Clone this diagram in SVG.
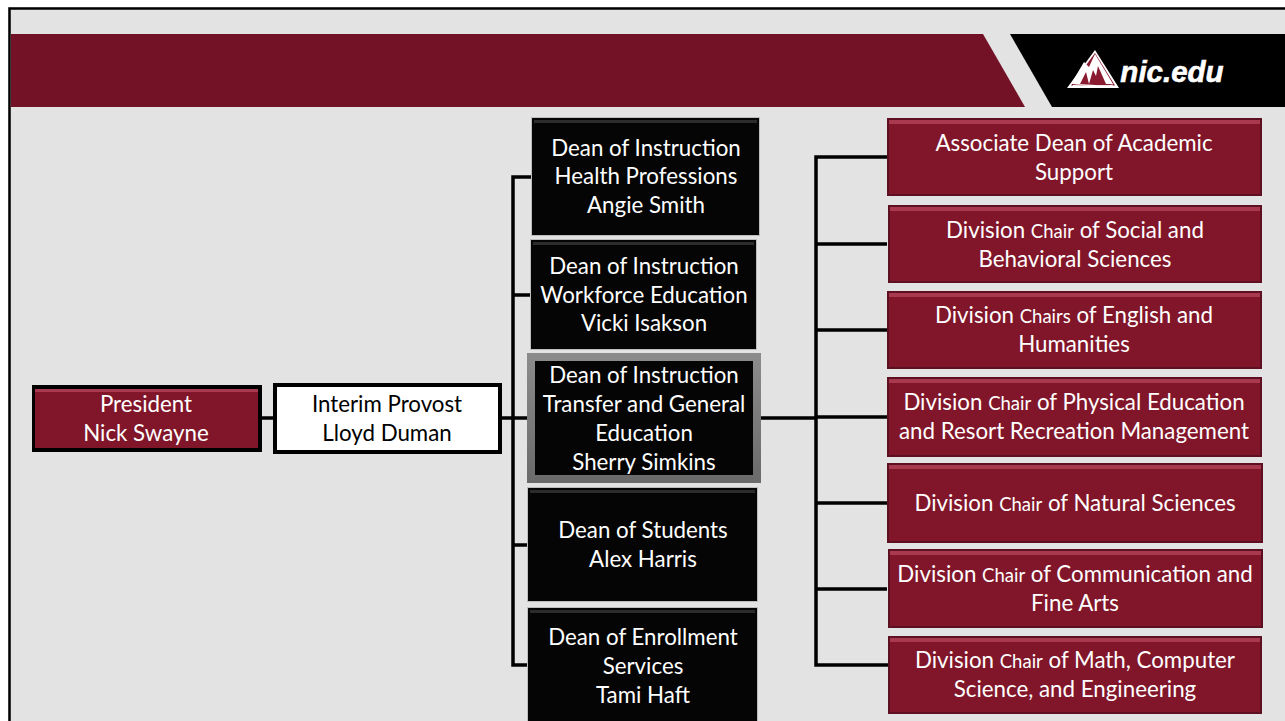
<svg xmlns="http://www.w3.org/2000/svg" width="1285" height="721" viewBox="0 0 1285 721">
<style>
text{font-family:"Lato","Liberation Sans",sans-serif;font-size:22.300px;text-anchor:middle;fill:#fff}
.s{font-size:18.500px}
.k{fill:#000}
.edge{fill:#bdbdbd}
.red{fill:#81162a}
.redtop{fill:#a8394f}
.redlo{fill:#5d1022}
.blk{fill:#050505}
.blktop{fill:#2c2c2c}
.c{fill:none;stroke:#000;stroke-width:3.500}
</style>
<defs>
<linearGradient id="g" x1="0" y1="0" x2="0" y2="1"><stop offset="0" stop-color="#8c8c8c"/><stop offset="1" stop-color="#6a6a6a"/></linearGradient>
</defs>
<rect width="1285" height="721" fill="#fff"/>
<rect x="8" y="7" width="1277" height="714" fill="#e3e3e3"/>
<path d="M9.500 721V8.500H1285" fill="none" stroke="#000" stroke-width="2.500"/>
<g id="header">
<polygon points="11,34 983,34 1025,107 11,107" fill="#731226"/>
<polygon points="1010,34 1285,34 1285,107 1052,107" fill="#000"/>
<polygon points="1067,88 1095,50 1119,88" fill="#fff"/>
<polygon points="1071,85.500 1095,53 1115,85.500" fill="#8a1a30"/>
<polygon points="1071,84 1084,62 1089,67 1095,54 1113,84 1106,84 1098,66 1096,76 1093,70 1089,84 1086,72 1080,84" fill="#fff"/>
<path d="M1073,85.500C1085,83 1100,88 1113,85" fill="none" stroke="#fff" stroke-width="1.200"/>
<text x="1172" y="82" style="font-family:'Liberation Sans',sans-serif;font-weight:bold;font-style:italic;font-size:29.500px;stroke:#fff;stroke-width:.6">nic.edu</text>
</g>
<g id="connectors">
<path class="c" d="M261,418H273M501,418H527M532,177H513V665H527M513,295H530M513,545H527"/>
<path class="c" d="M761,418H816M887,157H816V665H888M816,244H887M816,330H887M816,417H887M816,503H887M816,589H887"/>
</g>
<g id="president">
<rect x="32" y="385" width="230" height="67" class="k"/>
<rect x="35" y="389" width="223" height="59" class="red"/>
<rect x="35" y="389" width="223" height="3" class="redtop"/>
<text x="146" y="412">President</text><text x="146" y="441">Nick Swayne</text>
</g>
<g id="provost">
<rect x="273" y="383" width="229" height="71" class="k"/>
<rect x="277" y="387" width="221" height="63" fill="#fff"/>
<text x="387" y="412" class="k">Interim Provost</text><text x="387" y="441" class="k">Lloyd Duman</text>
</g>
<g id="dean1">
<rect x="531" y="117" width="229" height="119" class="edge"/>
<rect x="532" y="118" width="227" height="117" class="blk"/>
<rect x="534" y="120" width="223" height="3" class="blktop"/>
<text x="646" y="156">Dean of Instruction</text><text x="646" y="184">Health Professions</text><text x="646" y="213">Angie Smith</text>
</g>
<g id="dean2">
<rect x="530" y="239" width="227" height="111" class="edge"/>
<rect x="531" y="240" width="225" height="109" class="blk"/>
<rect x="533" y="242" width="221" height="3" class="blktop"/>
<text x="644" y="274">Dean of Instruction</text><text x="644" y="303">Workforce Education</text><text x="644" y="331">Vicki Isakson</text>
</g>
<g id="dean3">
<rect x="527" y="353" width="234" height="130" fill="url(#g)"/>
<rect x="535" y="361" width="218" height="114" class="blk"/>
<text x="644" y="383">Dean of Instruction</text><text x="644" y="412">Transfer and General</text><text x="644" y="441">Education</text><text x="644" y="470">Sherry Simkins</text>
</g>
<g id="dean4">
<rect x="527" y="487" width="231" height="115" class="edge"/>
<rect x="528" y="488" width="229" height="113" class="blk"/>
<rect x="530" y="490" width="225" height="3" class="blktop"/>
<text x="643" y="538">Dean of Students</text><text x="643" y="567">Alex Harris</text>
</g>
<g id="dean5">
<rect x="527" y="607" width="231" height="114" class="edge"/>
<rect x="528" y="608" width="229" height="113" class="blk"/>
<rect x="530" y="610" width="225" height="3" class="blktop"/>
<text x="643" y="645">Dean of Enrollment</text><text x="643" y="674">Services</text><text x="643" y="703">Tami Haft</text>
</g>
<g id="assoc">
<rect x="887" y="118" width="375" height="78" class="redlo"/>
<rect x="889" y="120" width="371" height="74" class="red"/>
<rect x="889" y="120" width="371" height="4" class="redtop"/>
<text x="1074" y="151">Associate Dean of Academic</text><text x="1074" y="180">Support</text>
</g>
<g id="chair-social">
<rect x="888" y="205" width="374" height="78" class="redlo"/>
<rect x="890" y="207" width="370" height="74" class="red"/>
<rect x="890" y="207" width="370" height="4" class="redtop"/>
<text x="1075" y="238">Division <tspan class="s">Chair</tspan> of Social and</text><text x="1075" y="267">Behavioral Sciences</text>
</g>
<g id="chair-english">
<rect x="887" y="291" width="375" height="78" class="redlo"/>
<rect x="889" y="293" width="371" height="74" class="red"/>
<rect x="889" y="293" width="371" height="4" class="redtop"/>
<text x="1074" y="323">Division <tspan class="s">Chairs</tspan> of English and</text><text x="1074" y="352">Humanities</text>
</g>
<g id="chair-pe">
<rect x="887" y="377" width="375" height="80" class="redlo"/>
<rect x="889" y="379" width="371" height="76" class="red"/>
<rect x="889" y="379" width="371" height="4" class="redtop"/>
<text x="1074" y="410">Division <tspan class="s">Chair</tspan> of Physical Education</text><text x="1074" y="439">and Resort Recreation Management</text>
</g>
<g id="chair-natural">
<rect x="887" y="463" width="376" height="80" class="redlo"/>
<rect x="889" y="465" width="372" height="76" class="red"/>
<rect x="889" y="465" width="372" height="4" class="redtop"/>
<text x="1075" y="511">Division <tspan class="s">Chair</tspan> of Natural Sciences</text>
</g>
<g id="chair-comm">
<rect x="888" y="549" width="375" height="79" class="redlo"/>
<rect x="890" y="551" width="371" height="75" class="red"/>
<rect x="890" y="551" width="371" height="4" class="redtop"/>
<text x="1075" y="582">Division <tspan class="s">Chair</tspan> of Communication and</text><text x="1075" y="611">Fine Arts</text>
</g>
<g id="chair-math">
<rect x="888" y="636" width="374" height="78" class="redlo"/>
<rect x="890" y="638" width="370" height="74" class="red"/>
<rect x="890" y="638" width="370" height="4" class="redtop"/>
<text x="1075" y="668">Division <tspan class="s">Chair</tspan> of Math, Computer</text><text x="1075" y="697">Science, and Engineering</text>
</g>
</svg>
